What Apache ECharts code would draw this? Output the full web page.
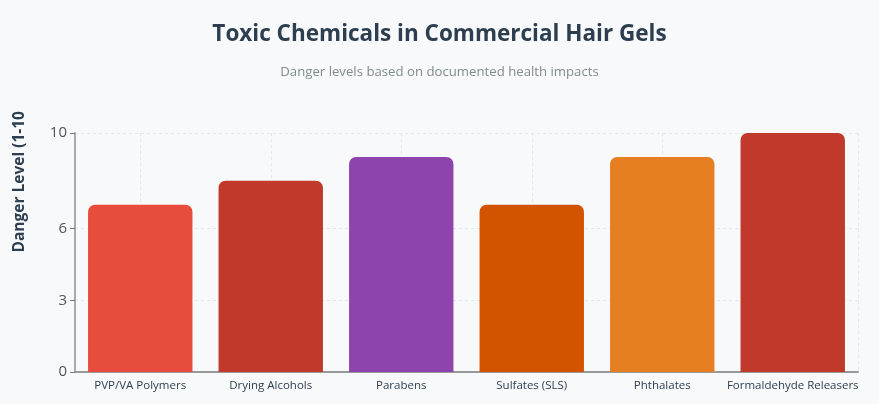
<!DOCTYPE html>
<html>
<head>
<meta charset="utf-8">
<script src="https://cdn.jsdelivr.net/npm/echarts@6/dist/echarts.min.js"></script>
<style>
  html, body { margin: 0; padding: 0; background: #f8f9fa; }
  #chart { width: 879px; height: 404px; }
</style>
</head>
<body>
<div id="chart"></div>
<script>
const categories = ['PVP/VA Polymers', 'Drying Alcohols', 'Parabens', 'Sulfates (SLS)', 'Phthalates', 'Formaldehyde Releasers']
const dangerLevels = [7, 8, 9, 7, 9, 10]
const barColors = ['#e74c3c', '#c0392b', '#8e44ad', '#d35400', '#e67e22', '#c0392b']
const yTicks = [0, 3, 6, 10]

// helper axis: half-slot positions so dashed lines fall on category centres
const halfSlots = []
for (let i = 0; i <= categories.length * 2; i++) halfSlots.push(String(i))

const chart = echarts.init(document.getElementById('chart'))

const option = {
  backgroundColor: '#f8f9fa',
  title: {
    text: 'Toxic Chemicals in Commercial Hair Gels',
    subtext: 'Danger levels based on documented health impacts',
    left: 'center',
    top: 18,
    itemGap: 20,
    textStyle: {
      fontFamily: 'Open Sans',
      fontSize: 22.5,
      fontWeight: 'bold',
      color: '#2c3e50'
    },
    subtextStyle: {
      fontFamily: 'Open Sans',
      fontSize: 13.2,
      color: '#7f8c8d'
    }
  },
  grid: {
    left: 75,
    right: 21,
    top: 133,
    bottom: 32,
    containLabel: false
  },
  xAxis: [{
    type: 'category',
    data: categories,
    axisLine: { lineStyle: { color: '#999', width: 2 } },
    axisTick: { alignWithLabel: true, length: 5, lineStyle: { color: '#777' } },
    axisLabel: { fontFamily: 'Open Sans', fontSize: 11.5, color: '#2c3e50', margin: 8, interval: 0 },
    splitLine: { show: false }
  }, {
    type: 'category',
    data: halfSlots,
    boundaryGap: false,
    position: 'bottom',
    axisLine: { show: false },
    axisTick: { show: false },
    axisLabel: { show: false },
    splitLine: {
      show: true,
      interval: (i) => i % 2 === 1 || i === halfSlots.length - 1,
      lineStyle: { color: '#e3e6ea', type: [3, 3] }
    }
  }],
  yAxis: {
    type: 'value',
    min: 0,
    max: 10,
    name: 'Danger Level (1-10',
    nameLocation: 'middle',
    nameGap: 47,
    nameTextStyle: {
      fontFamily: 'Open Sans',
      fontSize: 15.5,
      fontWeight: 'bold',
      color: '#2c3e50',
      align: 'left'
    },
    axisLine: { show: true, lineStyle: { color: '#aaa', width: 2 } },
    axisTick: { show: true, length: 5, customValues: yTicks, lineStyle: { color: '#777' } },
    axisLabel: { fontFamily: 'Open Sans', fontSize: 15, color: '#555', margin: 8, customValues: yTicks },
    splitLine: { show: true, lineStyle: { color: '#e3e6ea', type: [3, 3] } }
  },
  series: [{
    type: 'bar',
    data: dangerLevels.map((v, i) => ({
      value: v,
      itemStyle: { color: barColors[i] }
    })),
    barWidth: '80%',
    itemStyle: { borderRadius: [7, 7, 0, 0] }
  }]
}

chart.setOption(option)
</script>
</body>
</html>
